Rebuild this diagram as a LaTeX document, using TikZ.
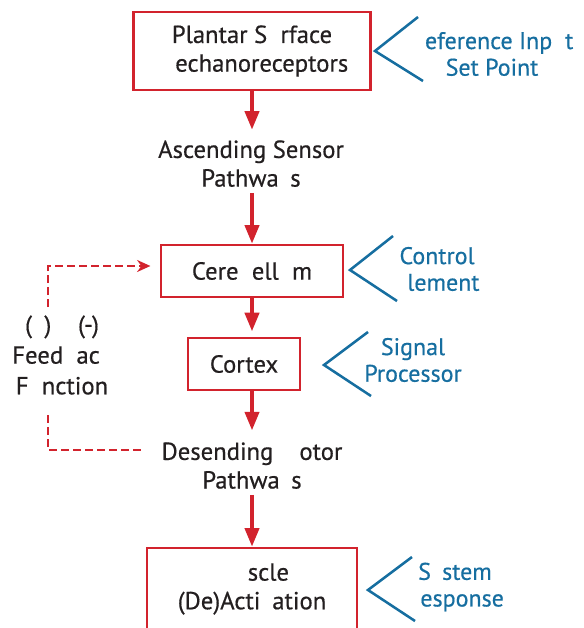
\documentclass[tikz,border=0pt]{standalone}
\usepackage{fontspec}
\setmainfont{PT Sans}[FakeBold=0.5]
\usepackage{tikz}
\usepackage{xcolor}
\usetikzlibrary{arrows.meta}

\definecolor{flowred}{RGB}{210,35,45}
\definecolor{tagblue}{RGB}{22,110,160}
\definecolor{ink}{RGB}{35,31,32}
\newcommand{\gap}[1]{\phantom{#1}}

\begin{document}
\begin{tikzpicture}[x=0.75pt,y=0.75pt,yscale=-1,xscale=1,
  box/.style={draw=flowred,line width=1.9pt,text=ink,align=center,inner sep=0pt,font=\fontsize{18.5}{21.5}\selectfont},
  lbl/.style={text=ink,align=center,inner sep=0.75pt,font=\fontsize{18.5}{21.5}\selectfont},
  tag/.style={text=tagblue,align=center,inner sep=0.75pt,font=\fontsize{18}{20}\selectfont},
  flow/.style={draw=flowred,line width=3pt,-{Triangle[length=14pt,width=10.5pt]}},
  fb/.style={draw=flowred,line width=1.8pt,dash pattern=on 6pt off 3pt},
  brk/.style={draw=tagblue,line width=1.9pt}]
\clip (0,0) rectangle (584,628);

% Boxes
\draw (252,51) node [box,minimum width=177.75pt,minimum height=58.5pt] (plantar) {Plantar S\gap{u}rface\\\gap{M}echanoreceptors};
\draw (252,271) node [box,minimum width=136.5pt,minimum height=39pt] (cereb) {Cere\gap{b}ell\gap{u}m};
\draw (244,364) node [box,minimum width=84pt,minimum height=39pt] (cortex) {Cortex};
\draw (252,589) node [box,minimum width=157.5pt,minimum height=61.5pt] (muscle) {\gap{Mu}scle\\(De)Acti\gap{v}ation};

% Text Node
\draw (251,166) node [lbl] (ascend) {Ascending Sensor\\Pathwa\gap{y}s};
% Text Node
\draw (252,468) node [lbl] (desc) {Desending \gap{M}otor\\Pathwa\gap{y}s};
% Text Node
\draw (62,355) node [lbl,font=\fontsize{18.5}{23}\selectfont] (feedback) {(\gap{+})\hspace{20pt}(-)\\Feed\gap{b}ac\gap{k}\\F\gap{u}nction};

%Straight Lines
\draw [flow,shorten >=7pt] (plantar) -- (plantar.south |- ascend.north);
\draw [flow] (ascend.south -| cereb) -- (cereb);
\draw [flow,shorten >=4pt] (cereb) -- (cereb.south |- cortex.north);
\draw [flow,shorten >=8pt] (cortex.south -| desc) -- (desc);
\draw [flow] (desc) -- (muscle);

% Feedback loop
\coordinate (fbtop) at (48,307);
\coordinate (fbbot) at (48,415);
\draw [fb,-{Stealth[length=10pt,width=9pt]},shorten >=7pt] (fbtop) |- ([yshift=-3.75pt]cereb.west);
\draw [fb,shorten >=14.5pt] (fbbot) |- ([yshift=-13.5pt]desc.west);

% Tags
\draw (492,54) node [tag] (refin) {\gap{R}eference Inp\gap{u}t\\Set Point};
\draw [brk] (418,17) -- (375,51) -- (423,81);
\draw (437,269) node [tag] (control) {Control\\\gap{E}lement};
\draw [brk] (393,236) -- (350,270) -- (397,301);
\draw (413,360) node [tag] (signal) {Signal\\Processor};
\draw [brk] (368,332) -- (324,365) -- (371,396);
\draw (455,587) node [tag] (sysresp) {S\gap{y}stem\\\gap{R}esponse};
\draw [brk] (412,557) -- (368,590) -- (415,621);

\end{tikzpicture}
\end{document}
